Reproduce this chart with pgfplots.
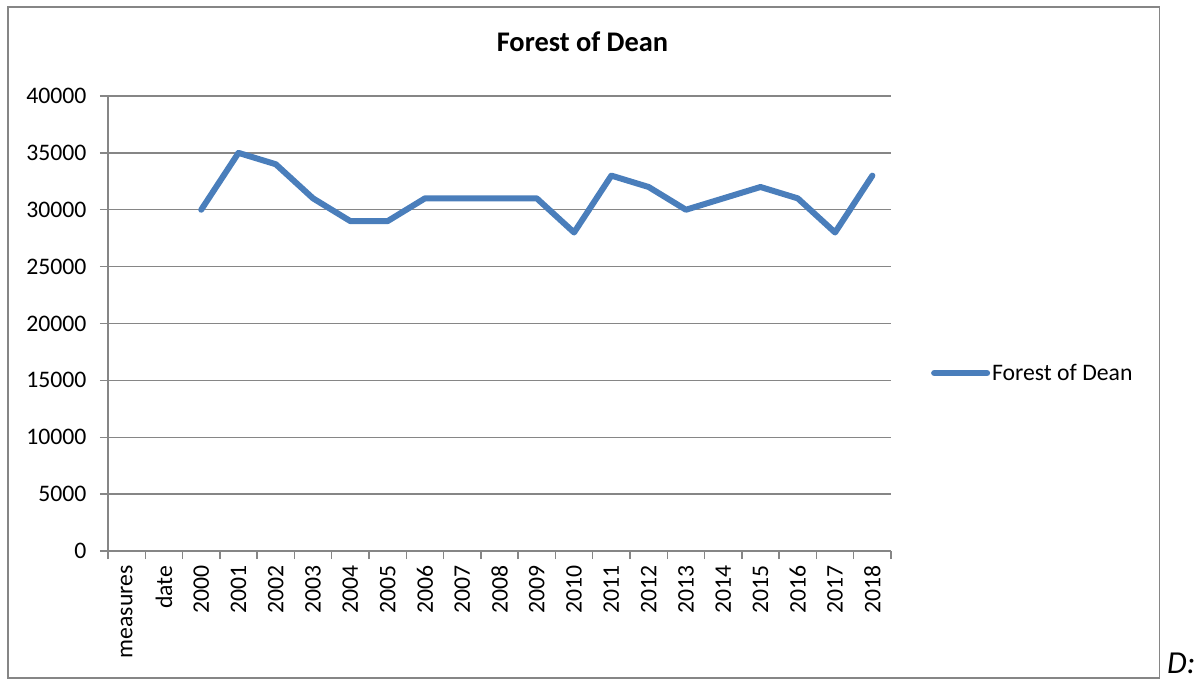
\documentclass[border=0pt]{standalone}
\usepackage{fontspec}
\setmainfont{Carlito}
\usepackage{pgfplots}
\pgfplotsset{compat=1.18}
\definecolor{linecol}{HTML}{4A7EBB}
\definecolor{gridcol}{HTML}{868686}
\begin{document}
\begin{tikzpicture}[x=1pt,y=1pt]
\useasboundingbox (0,0) rectangle (1203,680);
\draw[gridcol, line width=1.5pt] (8,2) rectangle (1159.5,673);
\node[anchor=base, inner sep=0pt, font=\bfseries\fontsize{28.4}{34}\selectfont] at (582.5,628) {Forest of Dean};
\node[anchor=base west, inner sep=0pt, font=\itshape\fontsize{32}{38}\selectfont] at (1167,6) {D:};
\begin{axis}[
  at={(108pt,129pt)}, anchor=south west,
  scale only axis, width=783pt, height=455pt,
  xmin=-0.5, xmax=20.5, ymin=0, ymax=40000,
  axis x line*=bottom, axis y line*=left,
  axis line style={gridcol, line width=1.3pt},
  ytick={0,5000,...,40000}, ymajorgrids,
  grid style={gridcol, line width=1.3pt},
  tick style={gridcol, line width=1.3pt},
  tick align=outside, major tick length=8pt,
  xtick={-0.5,0.5,...,20.5}, xticklabels={},
  extra x ticks={0,1,...,20},
  extra x tick labels={measures,date,2000,2001,2002,2003,2004,2005,2006,2007,2008,2009,2010,2011,2012,2013,2014,2015,2016,2017,2018},
  extra x tick style={major tick length=0pt, tick style={draw=none}},
  x tick label style={rotate=90, anchor=east, xshift=-11pt},
  y tick label style={xshift=-10pt},
  scaled y ticks=false,
  /pgf/number format/1000 sep={},
  /pgf/number format/assume math mode=true,
  ticklabel style={font=\fontsize{23.7}{28}\selectfont},
  legend style={at={(1.051,0.391)}, anchor=west, draw=none, fill=none, inner sep=0pt,
    font=\fontsize{23.7}{28}\selectfont, legend cell align=left},
  legend image code/.code={\draw[#1] (0pt,0pt) -- (53pt,0pt);},
  clip=false,
]
\addplot[linecol, line width=6pt, line join=round, line cap=round] coordinates {
(2,30000)(3,35000)(4,34000)(5,31000)(6,29000)(7,29000)(8,31000)(9,31000)(10,31000)(11,31000)
(12,28000)(13,33000)(14,32000)(15,30000)(16,31000)(17,32000)(18,31000)(19,28000)(20,33000)};
\addlegendentry{Forest of Dean}
\end{axis}
\end{tikzpicture}
\end{document}
